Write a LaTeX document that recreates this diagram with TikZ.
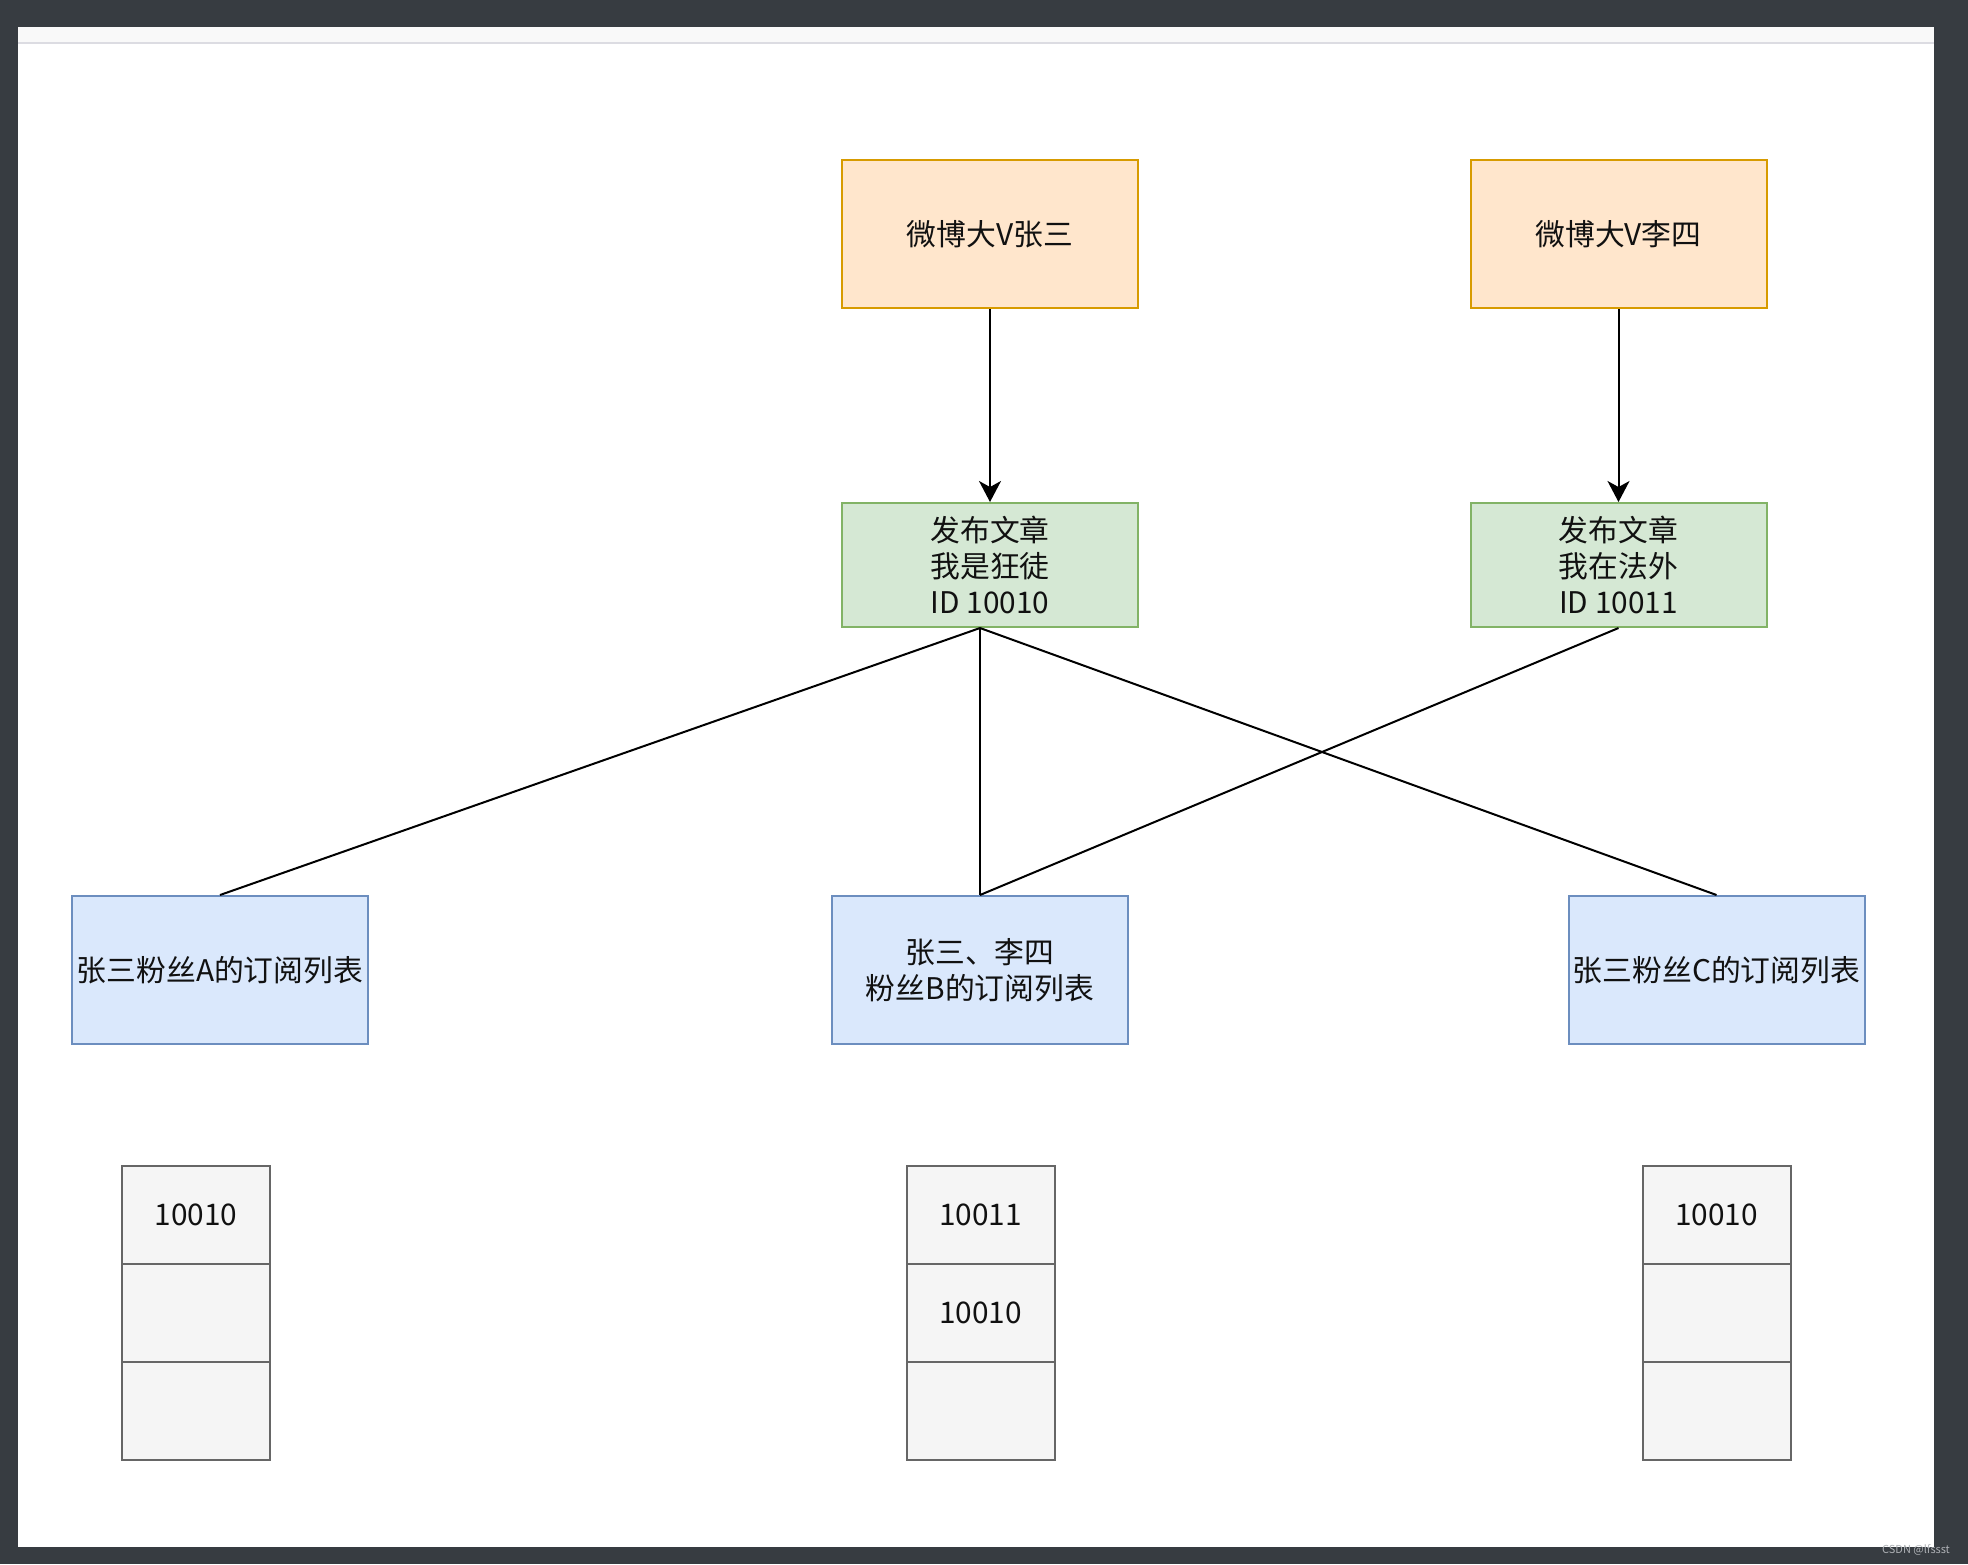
\documentclass[tikz,border=0pt]{standalone}
\usepackage{fontspec}
\setmainfont{Noto Sans CJK SC}
\usetikzlibrary{arrows.meta}
\definecolor{frame}{HTML}{373C41}
\definecolor{orfill}{HTML}{FFE6CC}
\definecolor{ordraw}{HTML}{D79B00}
\definecolor{grfill}{HTML}{D5E8D4}
\definecolor{grdraw}{HTML}{82B366}
\definecolor{blfill}{HTML}{DAE8FC}
\definecolor{bldraw}{HTML}{6C8EBF}
\definecolor{gyfill}{HTML}{F5F5F5}
\definecolor{gydraw}{HTML}{666666}
\definecolor{txt}{HTML}{111111}
\definecolor{band}{HTML}{F9F9F9}
\definecolor{bandline}{HTML}{DCDCE2}
\definecolor{wmark}{HTML}{AFB2B6}
\tikzset{
  base/.style={draw, line width=1pt, inner sep=0pt, align=center, text=txt,
    font=\fontsize{14.9}{18}\selectfont},
  vbox/.style={base, fill=orfill, draw=ordraw, minimum width=148pt, minimum height=74pt},
  postbox/.style={base, fill=grfill, draw=grdraw, minimum width=148pt, minimum height=62pt},
  fanbox/.style={base, fill=blfill, draw=bldraw, minimum width=148pt, minimum height=74pt},
  cell/.style={base, fill=gyfill, draw=gydraw, minimum width=74pt, minimum height=49pt},
  conn/.style={line width=1pt, draw=black},
  arr/.style={conn, -{Stealth[length=10.5pt, width=11pt, inset=3pt]}},
}
\begin{document}
\begin{tikzpicture}[x=0.5pt, y=-0.5pt]
\useasboundingbox (0,0) rectangle (1968,1564);
\fill[frame] (0,0) rectangle (1968,1564);
\fill[white] (18,27) rectangle (1934,1547);
\fill[band] (18,27) rectangle (1934,42);
\draw[bandline, line width=1pt] (18,43) -- (1934,43);

\node[vbox] (zs) at (990,234) {微博大V张三};
\node[vbox] (ls) at (1618.5,234) {微博大V李四};
\node[postbox] (p1) at (990,565) {发布文章\\我是狂徒\\ID 10010};
\node[postbox] (p2) at (1618.5,565) {发布文章\\我在法外\\ID 10011};
\node[fanbox] (fa) at (220,970) {张三粉丝A的订阅列表};
\node[fanbox] (fb) at (980,970) {张三、李四\\粉丝B的订阅列表};
\node[fanbox] (fc) at (1716.5,970) {张三粉丝C的订阅列表};

\node[cell] (a1) at (196,1215) {10010};
\node[cell] (a2) at (196,1313) {};
\node[cell] (a3) at (196,1411) {};
\node[cell] (b1) at (980.5,1215) {10011};
\node[cell] (b2) at (980.5,1313) {10010};
\node[cell] (b3) at (980.5,1411) {};
\node[cell] (c1) at (1716.5,1215) {10010};
\node[cell] (c2) at (1716.5,1313) {};
\node[cell] (c3) at (1716.5,1411) {};

\draw[arr] (zs.south) -- (p1.north);
\draw[arr] (ls.south) -- (p2.north);
\coordinate (p1b) at ([xshift=-5pt]p1.south);
\draw[conn] (p1b) -- (fa.north);
\draw[conn] (p1b) -- (fb.north);
\draw[conn] (p1b) -- (fc.north);
\draw[conn] (p2.south) -- (fb.north);

\node[text=wmark, font=\fontsize{5.5}{6}\selectfont, inner sep=0pt] (wm) at (1916,1550) {CSDN @lfssst};
\end{tikzpicture}
\end{document}
